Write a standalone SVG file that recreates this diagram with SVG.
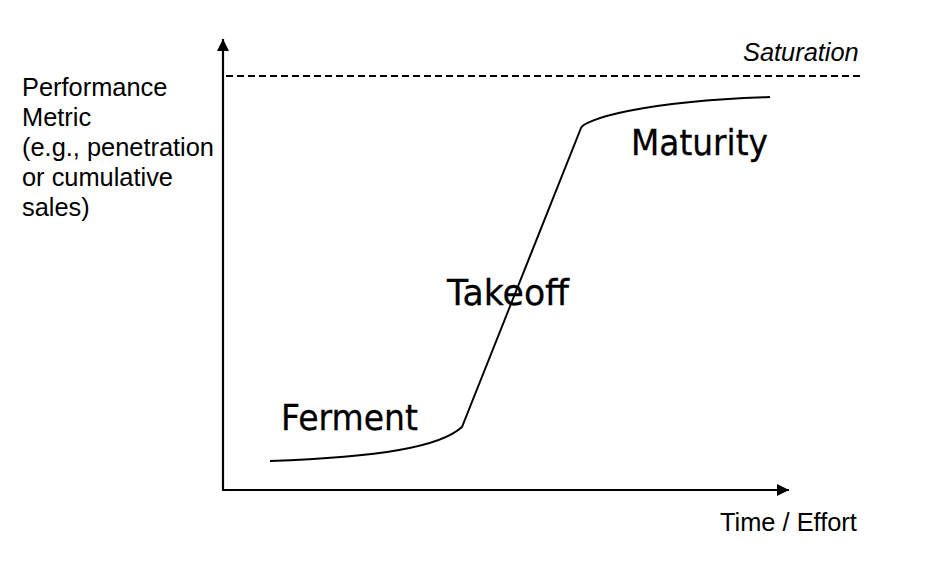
<svg xmlns="http://www.w3.org/2000/svg" width="936" height="564" viewBox="0 0 936 564">
  <style>
    .axis { stroke: #000; stroke-width: 2.2; fill: none; }
    .curve { stroke: #000; stroke-width: 2; fill: none; }
    .dash { stroke: #000; stroke-width: 2; fill: none; stroke-dasharray: 7 4; }
    .lbl { font-family: "Liberation Sans", Arial, sans-serif; font-size: 25.4px; fill: #000; }
    .phase { font-family: "DejaVu Sans", Verdana, sans-serif; font-size: 35px; fill: #000; stroke: #000; stroke-width: 0.3; }
  </style>
  <defs>
    <marker id="arrow" viewBox="0 0 12 12" refX="12" refY="6" markerWidth="12" markerHeight="12" markerUnits="userSpaceOnUse" orient="auto">
      <path d="M0,0 L12,6 L0,12 Z" fill="#000"/>
    </marker>
  </defs>
  <rect width="936" height="564" fill="#fff"/>
  <g id="connectors">
    <line class="axis" x1="223" y1="490" x2="223" y2="39" marker-end="url(#arrow)"/>
    <line class="axis" x1="222" y1="490" x2="789" y2="490" marker-end="url(#arrow)"/>
    <line class="dash" x1="226" y1="76" x2="860" y2="76"/>
    <path class="curve" d="M270,461 C380,457 440,447 462,427 L581,128 C584,120 640,101 770,97"/>
  </g>
  <g id="y-label">
    <text class="lbl" x="22" y="96">Performance</text>
    <text class="lbl" x="22" y="126">Metric</text>
    <text class="lbl" x="22" y="156">(e.g., penetration</text>
    <text class="lbl" x="22" y="186">or cumulative</text>
    <text class="lbl" x="22" y="216">sales)</text>
  </g>
  <g id="x-label">
    <text class="lbl" x="720" y="531">Time / Effort</text>
  </g>
  <g id="saturation">
    <text class="lbl" x="743" y="61" font-style="italic">Saturation</text>
  </g>
  <g id="ferment">
    <text class="phase" x="281" y="430" textLength="137" lengthAdjust="spacingAndGlyphs">Ferment</text>
  </g>
  <g id="takeoff">
    <text class="phase" x="447" y="305" textLength="122" lengthAdjust="spacingAndGlyphs">Takeoff</text>
  </g>
  <g id="maturity">
    <text class="phase" x="631" y="155" textLength="137" lengthAdjust="spacingAndGlyphs">Maturity</text>
  </g>
</svg>
